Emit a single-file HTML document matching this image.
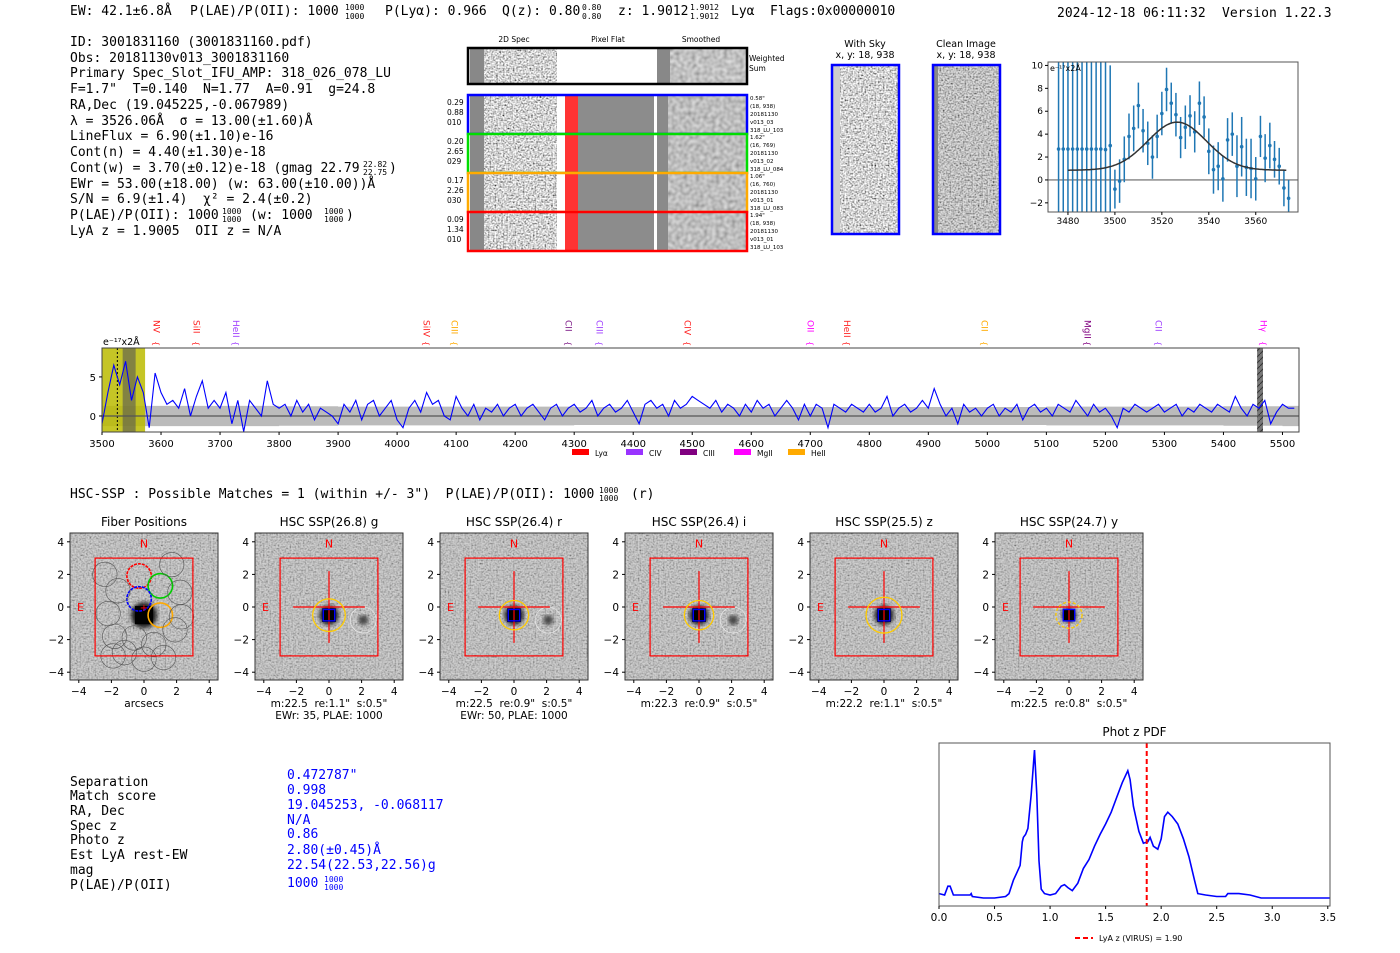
<!DOCTYPE html>
<html><head><meta charset="utf-8">
<style>
html,body{margin:0;padding:0;background:#fff;}
svg{display:block;font-family:"DejaVu Sans","Liberation Sans",sans-serif;}
text{white-space:pre;}
.mono{font-family:"DejaVu Sans Mono","Liberation Mono",monospace;}
</style></head>
<body>
<svg id="root" width="1400" height="953" viewBox="0 0 1400 953" xmlns="http://www.w3.org/2000/svg" xml:space="preserve">
<defs>
<filter id="noise" x="0" y="0" width="100%" height="100%">
<feTurbulence type="fractalNoise" baseFrequency="0.6" numOctaves="1" seed="3"/>
<feColorMatrix type="saturate" values="0"/>
<feComponentTransfer><feFuncR type="linear" slope="2.6" intercept="-0.65"/><feFuncG type="linear" slope="2.6" intercept="-0.65"/><feFuncB type="linear" slope="2.6" intercept="-0.65"/><feFuncA type="linear" slope="0" intercept="1"/></feComponentTransfer>
</filter>
<filter id="noise2" x="0" y="0" width="100%" height="100%">
<feTurbulence type="fractalNoise" baseFrequency="0.25" numOctaves="1" seed="7"/>
<feColorMatrix type="saturate" values="0"/>
<feComponentTransfer><feFuncR type="linear" slope="1.4" intercept="0"/><feFuncG type="linear" slope="1.4" intercept="0"/><feFuncB type="linear" slope="1.4" intercept="0"/><feFuncA type="linear" slope="0" intercept="1"/></feComponentTransfer>
</filter>
<filter id="blur"><feGaussianBlur stdDeviation="2"/></filter>
<pattern id="hatch" width="6" height="6" patternUnits="userSpaceOnUse"><rect width="6" height="6" fill="#777"/><path d="M0 6L6 0" stroke="#333" stroke-width="1"/></pattern>
</defs>

<g class="mono" font-size="13" fill="#000">
<text x="70" y="15">EW: 42.1±6.8Å</text>
<text x="190" y="15">P(LAE)/P(OII): 1000</text>
<text x="345" y="10" font-size="8">1000</text><text x="345" y="19" font-size="8">1000</text>
<text x="385" y="15">P(Lyα): 0.966</text>
<text x="502" y="15">Q(z): 0.80</text>
<text x="582" y="10" font-size="8">0.80</text><text x="582" y="19" font-size="8">0.80</text>
<text x="618" y="15">z: 1.9012</text>
<text x="690" y="10" font-size="8">1.9012</text><text x="690" y="19" font-size="8">1.9012</text>
<text x="731" y="15">Lyα</text>
<text x="770" y="15">Flags:0x00000010</text>
<text x="1057" y="17">2024-12-18 06:11:32</text>
<text x="1222" y="17">Version 1.22.3</text>
</g>

<g class="mono" font-size="13" fill="#000">
<text x="70" y="46">ID: 3001831160 (3001831160.pdf)</text>
<text x="70" y="62">Obs: 20181130v013_3001831160</text>
<text x="70" y="77">Primary Spec_Slot_IFU_AMP: 318_026_078_LU</text>
<text x="70" y="93">F=1.7"  T=0.140  N=1.77  A=0.91  g=24.8</text>
<text x="70" y="109">RA,Dec (19.045225,-0.067989)</text>
<text x="70" y="125">λ = 3526.06Å  σ = 13.00(±1.60)Å</text>
<text x="70" y="140">LineFlux = 6.90(±1.10)e-16</text>
<text x="70" y="156">Cont(n) = 4.40(±1.30)e-18</text>
<text x="70" y="172">Cont(w) = 3.70(±0.12)e-18 (gmag 22.79</text>
<text x="363" y="167" font-size="8">22.82</text><text x="363" y="175" font-size="8">22.75</text><text x="389" y="172">)</text>
<text x="70" y="188">EWr = 53.00(±18.00) (w: 63.00(±10.00))Å</text>
<text x="70" y="203">S/N = 6.9(±1.4)  χ² = 2.4(±0.2)</text>
<text x="70" y="219">P(LAE)/P(OII): 1000</text>
<text x="222" y="214" font-size="8">1000</text><text x="222" y="222" font-size="8">1000</text>
<text x="250" y="219">(w: 1000</text>
<text x="324" y="214" font-size="8">1000</text><text x="324" y="222" font-size="8">1000</text>
<text x="346" y="219">)</text>
<text x="70" y="235">LyA z = 1.9005  OII z = N/A</text>
</g>

<g id="spec2d" font-size="7">
<text x="514" y="42" text-anchor="middle" font-size="7.5">2D Spec</text>
<text x="608" y="42" text-anchor="middle" font-size="7.5">Pixel Flat</text>
<text x="701" y="42" text-anchor="middle" font-size="7.5">Smoothed</text>
</g>

<g>
<text x="865" y="47" text-anchor="middle" font-size="9.5">With Sky</text>
<text x="865" y="58" text-anchor="middle" font-size="9.5">x, y: 18, 938</text>
<rect x="832" y="65" width="67" height="169" fill="#ccc"/>
<rect x="840" y="65" width="59" height="169" filter="url(#noise)"/>
<rect x="832" y="65" width="67" height="169" fill="none" stroke="#00f" stroke-width="2.5"/>
<text x="966" y="47" text-anchor="middle" font-size="9.5">Clean Image</text>
<text x="966" y="58" text-anchor="middle" font-size="9.5">x, y: 18, 938</text>
<rect x="933" y="65" width="67" height="169" fill="#888"/>
<rect x="938" y="65" width="62" height="169" filter="url(#noise)" opacity="0.75"/>
<rect x="933" y="65" width="67" height="169" fill="none" stroke="#00f" stroke-width="2.5"/>
</g>

<g id="fitplot"></g>
<g id="spectrum"></g>

<text class="mono" x="70" y="498" font-size="13">HSC-SSP : Possible Matches = 1 (within +/- 3")  P(LAE)/P(OII): 1000</text>
<text class="mono" x="599" y="493" font-size="8">1000</text><text class="mono" x="599" y="501" font-size="8">1000</text>
<text class="mono" x="631" y="498" font-size="13">(r)</text>

<g id="cutouts"></g>

<g class="mono" font-size="13">
<g fill="#000">
<text x="70" y="786">Separation</text><text x="70" y="800">Match score</text><text x="70" y="815">RA, Dec</text>
<text x="70" y="830">Spec z</text><text x="70" y="844">Photo z</text><text x="70" y="859">Est LyA rest-EW</text>
<text x="70" y="874">mag</text><text x="70" y="889">P(LAE)/P(OII)</text>
</g>
<g fill="#00f">
<text x="287" y="779">0.472787"</text><text x="287" y="794">0.998</text><text x="287" y="809">19.045253, -0.068117</text>
<text x="287" y="824">N/A</text><text x="287" y="838">0.86</text><text x="287" y="854">2.80(±0.45)Å</text>
<text x="287" y="869">22.54(22.53,22.56)g</text><text x="287" y="887">1000</text>
<text x="324" y="882" font-size="8">1000</text><text x="324" y="890" font-size="8">1000</text>
</g>
</g>

<g id="pdfplot"></g>
</svg>

<script>
const fitWave = [3476,3478,3480,3482,3484,3486,3488,3490,3492,3494,3496,3498,3500,3502,3504,3506,3508,3510,3512,3514,3516,3518,3520,3522,3524,3526,3528,3530,3532,3534,3536,3538,3540,3542,3544,3546,3548,3550,3552,3554,3556,3558,3560,3562,3564,3566,3568,3570,3572,3574];
const fitFlux = [2.7,2.7,2.7,2.7,2.7,2.7,2.7,2.7,2.7,2.7,2.65,3.0,-0.8,-0.1,1.8,3.8,4.5,6.5,4.3,3.2,2.0,3.8,5.8,7.9,6.7,5.7,3.7,4.6,5.6,4.2,6.7,5.5,2.5,0.9,1.2,0.1,3.5,4.0,1.2,2.9,1.1,1.0,0.1,3.8,1.9,3.0,1.8,1.2,-0.7,-1.6];
const fitErr = [30,30,30,30,30,30,30,30,30,30,30,7,1.7,1.9,2.0,2.0,2.0,2.0,1.9,1.9,1.9,1.9,1.9,1.9,1.8,1.9,1.8,1.9,1.8,1.8,1.9,1.8,2.0,2.1,2.1,2.0,1.9,1.9,2.7,2.6,2.5,2.6,1.9,1.8,2.1,2.0,1.6,1.6,1.6,1.6];
const fitModel = [4.2, 3526.5, 12.5, 0.85];
const fitXTicks = [3480,3500,3520,3540,3560];
const fitYTicks = [-2,0,2,4,6,8,10];

const specStart = 3500, specStep = 10;
const specFlux = [-1,3,6.5,4,7,2,5,3,-1.5,5.5,
3,1.5,2,1,3.5,0,2.5,4.5,1,2,
1,3,-1,2,-2,2,1,0,4.5,1.5,
1,1.5,0,2,0.5,1.5,-0.5,1,0.5,0,
-1,1.5,0.5,2,-0.5,1.5,2,0,1,2,
-0.5,-1.5,1,2,0.5,3,1.5,2,0,-0.5,
2.5,1,0,1.5,-0.5,1,0.5,1.5,0,1,
1.5,0,1,1.5,0.5,-0.5,1,1.5,0,1,
1.5,0.5,1,2,0,1,1.5,0.5,1,2,
0.5,-1,1.5,2,1,1.5,0,2,1,1.5,
2.5,2,1.5,1,2,0.5,1.5,1,0,1.5,
0.5,2,1,1.5,0,1,2,1,-0.5,1.5,
0,1.5,1,-1.5,1.5,1,0.5,1.5,1,0.5,
1.5,0.5,1,2.5,0,1,1.5,0.5,1,2,
1,3.5,1.5,0,1,-1,1.5,0.5,1,0,
1,1.5,0,1,0.5,1.5,-0.5,1,1.5,0.5,
1,0,1.5,1,0.5,2,1,0,1.5,0.5,
1,0,-1.5,1,0.5,1.5,1,0.5,1,1.5,
0.5,1,1.5,0,1,0.5,1.5,1,0.5,1.5,
1,0.5,2.5,1,0,1.5,1,2,-1,0.5,
1.5,1,1];
const specErrBins = [1.3,1.3,1.3,1.25,1.2,1.2,1.2,1.2,1.15,1.15,1.15,1.15,1.15,1.15,1.15,1.15,1.2,1.2,1.2,1.25,1.3];
const specXTicks = [3500,3600,3700,3800,3900,4000,4100,4200,4300,4400,4500,4600,4700,4800,4900,5000,5100,5200,5300,5400,5500];
const specYTicks = [0,5];
const lineNames = ["NV","SiII","HeII","SiIV","CIII","CII","CIII","CIV","OII","HeII","CII","MgII","CII","Hγ"];
const lineWaves = [3592,3660,3727,4050,4097,4290,4343,4492,4700,4762,4995,5170,5290,5468];
const lineColors = ["#f22","#f22","#a040ff","#f22","#fa0","#80208a","#a040ff","#f22","#f0f","#f22","#fa0","#800080","#a040ff","#f0f"];
const legendNames = ["Lyα","CIV","CIII","MgII","HeII"];
const legendColors = ["#f00","#9933ff","#800080","#f0f","#fa0"];

const pdfZ = [0,0.05,0.08,0.1,0.13,0.2,0.28,0.29,0.3,0.4,0.5,0.6,0.63,0.67,0.7,0.73,0.75,0.76,0.78,0.8,0.83,0.86,0.88,0.9,0.92,0.95,1.0,1.05,1.1,1.13,1.16,1.2,1.25,1.3,1.35,1.4,1.45,1.5,1.55,1.6,1.65,1.7,1.72,1.75,1.8,1.84,1.88,1.9,1.93,1.97,2.0,2.03,2.06,2.1,2.15,2.2,2.25,2.3,2.33,2.4,2.5,2.58,2.6,2.7,2.8,2.9,3.2,3.6];
const pdfP = [0.03,0.02,0.08,0.08,0.02,0.02,0.02,0.03,0.01,0.0,0.0,0.01,0.03,0.12,0.17,0.22,0.38,0.41,0.43,0.47,0.7,1.0,0.7,0.25,0.06,0.03,0.02,0.03,0.08,0.09,0.07,0.05,0.1,0.2,0.26,0.35,0.43,0.5,0.58,0.68,0.78,0.86,0.8,0.62,0.45,0.37,0.38,0.41,0.35,0.33,0.4,0.55,0.58,0.55,0.5,0.4,0.28,0.12,0.03,0.02,0.01,0.01,0.03,0.03,0.02,0.0,0.0,0.0];
const pdfXTicks = [0.0,0.5,1.0,1.5,2.0,2.5,3.0,3.5];
const lyaZ = [1.87];

const cutTitles = ["Fiber Positions","HSC SSP(26.8) g","HSC SSP(26.4) r","HSC SSP(26.4) i","HSC SSP(25.5) z","HSC SSP(24.7) y"];
const cutCap1 = ["arcsecs",'m:22.5  re:1.1"  s:0.5"','m:22.5  re:0.9"  s:0.5"','m:22.3  re:0.9"  s:0.5"','m:22.2  re:1.1"  s:0.5"','m:22.5  re:0.8"  s:0.5"'];
const cutCap2 = ["","EWr: 35, PLAE: 1000","EWr: 50, PLAE: 1000","","",""];
const apertureR = [0,1.0,0.9,0.9,1.1,0.8];
const fiberX = [-0.3,1.0,-0.3,1.0,-1.6,-2.2,2.2,-1.8,-0.6,0.6,1.9,-1.2,0,1.2,2.3,-2.4,1.7,-1.9];
const fiberY = [1.9,1.3,0.5,-0.5,1.0,-0.4,0.9,-1.8,-1.9,-2.3,-1.4,-2.8,-3.2,-3.1,-0.6,2.0,2.6,-3.0];
const fiberColor = ["#f00","#0c0","#00f","#fa0"];
const cutTicks = [-4,-2,0,2,4];

const NS="http://www.w3.org/2000/svg";
function mk(parent, tag, attrs, text){const e=document.createElementNS(NS,tag);for(const k in attrs)e.setAttribute(k,attrs[k]);if(text!==undefined)e.textContent=text;parent.appendChild(e);return e;}

(function(){
  const g=document.getElementById('spec2d');
  const ws=mk(g,'g',{});
  
  
  mk(ws,'rect',{x:468,y:48,width:279,height:36,fill:'#fff'});
  mk(ws,'rect',{x:470,y:48,width:14,height:36,fill:'#888'});
  mk(ws,'rect',{x:484,y:48,width:73,height:36,filter:'url(#noise)'});
  mk(ws,'rect',{x:657,y:48,width:90,height:36,fill:'#888'});
  mk(ws,'rect',{x:670,y:48,width:77,height:36,filter:'url(#noise2)',opacity:0.7});
  mk(ws,'rect',{x:468,y:48,width:279,height:36,fill:'none',stroke:'#000','stroke-width':2.5});
  mk(ws,'text',{x:749,y:61,'font-size':7.5},'Weighted');
  mk(ws,'text',{x:749,y:71,'font-size':7.5},'Sum');
  const rows=[[95,'#00f',['0.29','0.88','010'],['0.58"','(18, 938)','20181130','v013_03','318_LU_103']],
              [134,'#0d0',['0.20','2.65','029'],['1.62"','(16, 769)','20181130','v013_02','318_LU_084']],
              [173,'#fa0',['0.17','2.26','030'],['1.06"','(16, 760)','20181130','v013_01','318_LU_083']],
              [212,'#f00',['0.09','1.34','010'],['1.94"','(18, 938)','20181130','v013_01','318_LU_103']]];
  rows.forEach((r,i)=>{
    const y=r[0],h=39;
    const rg=mk(g,'g',{});
    
    
    mk(rg,'rect',{x:468,y:y,width:279,height:h,fill:'#fff'});
    mk(rg,'rect',{x:470,y:y,width:14,height:h,fill:'#888'});
    mk(rg,'rect',{x:484,y:y,width:73,height:h,filter:'url(#noise)'});
    mk(rg,'rect',{x:565,y:y,width:13,height:h,fill:'#f33'});
    mk(rg,'rect',{x:578,y:y,width:76,height:h,fill:'#8c8c8c'});
    mk(rg,'rect',{x:657,y:y,width:90,height:h,fill:'#8a8a8a'});
    mk(rg,'rect',{x:668,y:y,width:79,height:h,filter:'url(#noise2)',opacity:0.65});
    mk(rg,'rect',{x:468,y:y,width:279,height:h,fill:'none',stroke:r[1],'stroke-width':2.5});
    r[2].forEach((t,j)=>mk(rg,'text',{x:447,y:y+10+j*10,'font-size':7.5},t));
    r[3].forEach((t,j)=>mk(rg,'text',{x:750,y:y+5+j*8,'font-size':5.5},t));
  });
})();

(function(){
  const g=document.getElementById('fitplot');
  const L=1048,R=1298,T=62,B=212, x0=3471.5,x1=3578,y0=-2.8,y1=10.3;
  const sx=v=>L+(v-x0)/(x1-x0)*(R-L), sy=v=>B-(v-y0)/(y1-y0)*(B-T);
  const cp=mk(g,'clipPath',{id:'fitclip'}); mk(cp,'rect',{x:L,y:T,width:R-L,height:B-T});
  const inner=mk(g,'g',{'clip-path':'url(#fitclip)'});
  mk(inner,'line',{x1:L,x2:R,y1:sy(0),y2:sy(0),stroke:'#666','stroke-width':1.2});
  fitWave.forEach((w,i)=>{
    const el=mk(inner,'line',{x1:sx(w),x2:sx(w),y1:sy(fitFlux[i]+fitErr[i]),y2:sy(fitFlux[i]-fitErr[i]),stroke:'#1f77b4','stroke-width':1.5});
    
    
    const d=mk(inner,'circle',{cx:sx(w),cy:sy(fitFlux[i]),r:1.8,fill:'#1f77b4'});
    
    
  });
  let p='';
  for(let w=3480;w<=3573;w+=0.5){const v=fitModel[3]+fitModel[0]*Math.exp(-0.5*Math.pow((w-fitModel[1])/fitModel[2],2));p+=(p?'L':'M')+sx(w).toFixed(1)+' '+sy(v).toFixed(1);}
  const m=mk(inner,'path',{d:p,fill:'none',stroke:'#333','stroke-width':1.5});
  
  
  mk(g,'rect',{x:L,y:T,width:R-L,height:B-T,fill:'none',stroke:'#555','stroke-width':1});
  fitXTicks.forEach(t=>{mk(g,'line',{x1:sx(t),x2:sx(t),y1:B,y2:B+3,stroke:'#000'});mk(g,'text',{x:sx(t),y:B+12,'font-size':9,'text-anchor':'middle'},t);});
  fitYTicks.forEach(t=>{mk(g,'line',{x1:L-3,x2:L,y1:sy(t),y2:sy(t),stroke:'#000'});mk(g,'text',{x:L-5,y:sy(t)+3,'font-size':9,'text-anchor':'end'},t===-2?'−2':t);});
  mk(g,'text',{x:L+2,y:T+9,'font-size':8},'e⁻¹⁷x2Å');
})();

(function(){
  const g=document.getElementById('spectrum');
  const L=102,R=1299,T=348,B=432,x0=3500,x1=5528,y0=-2.05,y1=8.7;
  const sx=v=>L+(v-x0)/(x1-x0)*(R-L), sy=v=>B-(v-y0)/(y1-y0)*(B-T);
  const cp=mk(g,'clipPath',{id:'specclip'}); mk(cp,'rect',{x:L,y:T,width:R-L,height:B-T});
  const inner=mk(g,'g',{'clip-path':'url(#specclip)'});
  let up='',dn='';
  specErrBins.forEach((e,i)=>{const wa=3500+i*100,wb=wa+100;up+=(up?'L':'M')+sx(wa)+' '+sy(e)+'L'+sx(wb)+' '+sy(e);dn='L'+sx(wb)+' '+sy(-e)+'L'+sx(wa)+' '+sy(-e)+dn;});
  const band=mk(inner,'path',{d:up+dn+'Z',fill:'#bbb'});
  
  
  mk(inner,'rect',{x:sx(3500),y:T,width:sx(3573)-sx(3500),height:B-T,fill:'#bb0',opacity:0.85});
  mk(inner,'rect',{x:sx(3535),y:T,width:sx(3557)-sx(3535),height:B-T,fill:'#555',opacity:0.6});
  mk(inner,'line',{x1:sx(3526),x2:sx(3526),y1:T,y2:B,stroke:'#000','stroke-dasharray':'2,2'});
  mk(inner,'rect',{x:sx(5457),y:T,width:sx(5467)-sx(5457),height:B-T,fill:'url(#hatch)'});
  mk(inner,'line',{x1:L,x2:R,y1:sy(0),y2:sy(0),stroke:'#555','stroke-width':1.3});
  let p='';
  specFlux.forEach((v,i)=>{p+=(p?'L':'M')+sx(specStart+i*specStep).toFixed(1)+' '+sy(v).toFixed(1);});
  const ln=mk(inner,'path',{d:p,fill:'none',stroke:'#00f','stroke-width':1.1});
  
  
  mk(g,'rect',{x:L,y:T,width:R-L,height:B-T,fill:'none',stroke:'#444','stroke-width':1});
  specXTicks.forEach(t=>{mk(g,'line',{x1:sx(t),x2:sx(t),y1:B,y2:B+3,stroke:'#000'});mk(g,'text',{x:sx(t),y:B+15,'font-size':10,'text-anchor':'middle'},t);});
  specYTicks.forEach(t=>{mk(g,'line',{x1:L-3,x2:L,y1:sy(t),y2:sy(t),stroke:'#000'});mk(g,'text',{x:L-6,y:sy(t)+4,'font-size':10,'text-anchor':'end'},t);});
  mk(g,'text',{x:L+1,y:T-3,'font-size':9.5},'e⁻¹⁷x2Å');
  lineNames.forEach((n,i)=>{
    const x=sx(lineWaves[i]);
    const t=mk(g,'text',{x:0,y:0,'font-size':9,fill:lineColors[i],transform:'translate('+(x-3)+',320) rotate(90)'},n);
    
    
    mk(g,'text',{x:0,y:0,'font-size':8,fill:lineColors[i],transform:'translate('+(x-3)+',341) rotate(90)'},'{');
  });
  legendNames.forEach((n,i)=>{
    const x=572+i*54;
    const le=mk(g,'g',{});
    
    
    mk(le,'rect',{x:x,y:449,width:17,height:6,fill:legendColors[i]});
    mk(le,'text',{x:x+23,y:456,'font-size':7.5},n);
  });
})();

(function(){
  const g=document.getElementById('cutouts');
  const s=16.3, cy=607;
  cutTitles.forEach((title,i)=>{
    const cx=144+i*185, L=70+i*185, T=533, W=148, H=147;
    const X=v=>cx+v*s, Y=v=>cy-v*s;
    const pg=mk(g,'g',{});
    
    
    mk(pg,'text',{x:cx,y:526,'font-size':12,'text-anchor':'middle'},title);
    mk(pg,'rect',{x:L,y:T,width:W,height:H,fill:'#aaa'});
    mk(pg,'rect',{x:L,y:T,width:W,height:H,filter:'url(#noise)',opacity:0.45});
    const cp=mk(pg,'clipPath',{id:'cc'+i}); mk(cp,'rect',{x:L,y:T,width:W,height:H});
    const inn=mk(pg,'g',{'clip-path':'url(#cc'+i+')'});
    const blobR = i===0?0.8:(i===5?0.45:0.6);
    mk(inn,'circle',{cx:X(0),cy:Y(-0.5),r:blobR*s,fill:'#222',filter:'url(#blur)'});
    mk(inn,'rect',{x:X(-blobR*0.7),y:Y(-0.5+blobR*0.7),width:blobR*1.4*s,height:blobR*1.4*s,fill:'#000'});
    if(i>0&&i<4){mk(inn,'circle',{cx:X(2.1),cy:Y(-0.8),r:5,fill:'#444',filter:'url(#blur)'});mk(inn,'circle',{cx:X(2.1),cy:Y(-0.8),r:13,fill:'none',stroke:'#eee','stroke-width':0.6});}
    mk(pg,'rect',{x:X(-3),y:Y(3),width:6*s,height:6*s,fill:'none',stroke:'#f00','stroke-width':1.2});
    mk(pg,'text',{x:X(0),y:Y(3.9)+4,'font-size':11,fill:'#f00','text-anchor':'middle'},'N');
    mk(pg,'text',{x:X(-3.9),y:Y(0)+4,'font-size':11,fill:'#f00','text-anchor':'middle'},'E');
    if(i===0){
      fiberX.forEach((fx,k)=>{
        const c=mk(inn,'circle',{cx:X(fx),cy:Y(fiberY[k]),r:0.75*s,fill:'none',stroke:k<4?fiberColor[k]:'#555','stroke-width':k<4?1.6:0.6,'stroke-dasharray':(k===0||k===2)?'3,1':'none'});
        
        
      });
      mk(pg,'text',{x:X(0),y:Y(0)+4,'font-size':10,fill:'#f00','text-anchor':'middle'},'+');
    } else {
      mk(pg,'line',{x1:X(-2.2),x2:X(2.2),y1:Y(0),y2:Y(0),stroke:'#f00','stroke-width':1.2});
      mk(pg,'line',{x1:X(0),x2:X(0),y1:Y(2.2),y2:Y(-2.2),stroke:'#f00','stroke-width':1.2});
      mk(pg,'circle',{cx:X(0),cy:Y(-0.5),r:apertureR[i]*s,fill:'none',stroke:'#fc0','stroke-width':1.3,'stroke-dasharray':i===5?'3,2':'none'});
      mk(pg,'rect',{x:X(-0.35),y:Y(-0.15),width:0.7*s,height:0.7*s,fill:'none',stroke:'#00f','stroke-width':1.4});
    }
    mk(pg,'rect',{x:L,y:T,width:W,height:H,fill:'none',stroke:'#333','stroke-width':1});
    cutTicks.forEach(t=>{
      const lab=t<0?'−'+(-t):''+t;
      mk(pg,'line',{x1:X(t),x2:X(t),y1:T+H,y2:T+H+3,stroke:'#000'});
      mk(pg,'text',{x:X(t),y:T+H+15,'font-size':10.5,'text-anchor':'middle'},lab);
      mk(pg,'line',{x1:L-3,x2:L,y1:Y(t),y2:Y(t),stroke:'#000'});
      mk(pg,'text',{x:L-6,y:Y(t)+4,'font-size':10.5,'text-anchor':'end'},lab);
    });
    mk(pg,'text',{x:cx,y:707,'font-size':10.5,'text-anchor':'middle'},cutCap1[i]);
    if(cutCap2[i]) mk(pg,'text',{x:cx,y:719,'font-size':10.5,'text-anchor':'middle'},cutCap2[i]);
  });
})();

(function(){
  const g=document.getElementById('pdfplot');
  const L=939,R=1330,T=743,B=906,x0=0,x1=3.52;
  const sx=v=>L+(v-x0)/(x1-x0)*(R-L), sy=v=>898-v*148;
  mk(g,'text',{x:(L+R)/2,y:736,'font-size':12,'text-anchor':'middle'},'Phot z PDF');
  const cp=mk(g,'clipPath',{id:'pdfclip'}); mk(cp,'rect',{x:L,y:T,width:R-L,height:B-T});
  const inn=mk(g,'g',{'clip-path':'url(#pdfclip)'});
  let p='';
  pdfZ.forEach((z,i)=>{p+=(p?'L':'M')+sx(z).toFixed(1)+' '+sy(pdfP[i]).toFixed(1);});
  const ln=mk(inn,'path',{d:p,fill:'none',stroke:'#00f','stroke-width':1.6});
  
  
  const zl=mk(inn,'line',{x1:sx(lyaZ[0]),x2:sx(lyaZ[0]),y1:T,y2:B,stroke:'#f00','stroke-width':2,'stroke-dasharray':'5,3'});
  
  
  mk(g,'rect',{x:L,y:T,width:R-L,height:B-T,fill:'none',stroke:'#555','stroke-width':1});
  pdfXTicks.forEach(t=>{mk(g,'line',{x1:sx(t),x2:sx(t),y1:B,y2:B+3,stroke:'#000'});mk(g,'text',{x:sx(t),y:B+15,'font-size':10.5,'text-anchor':'middle'},t.toFixed(1));});
  const lg=mk(g,'g',{});
  
  
  mk(lg,'line',{x1:1075,x2:1093,y1:938,y2:938,stroke:'#f00','stroke-width':2,'stroke-dasharray':'5,3'});
  mk(lg,'text',{x:1099,y:941,'font-size':8},'LyA z (VIRUS) = 1.90');
})();
</script>
</body></html>
